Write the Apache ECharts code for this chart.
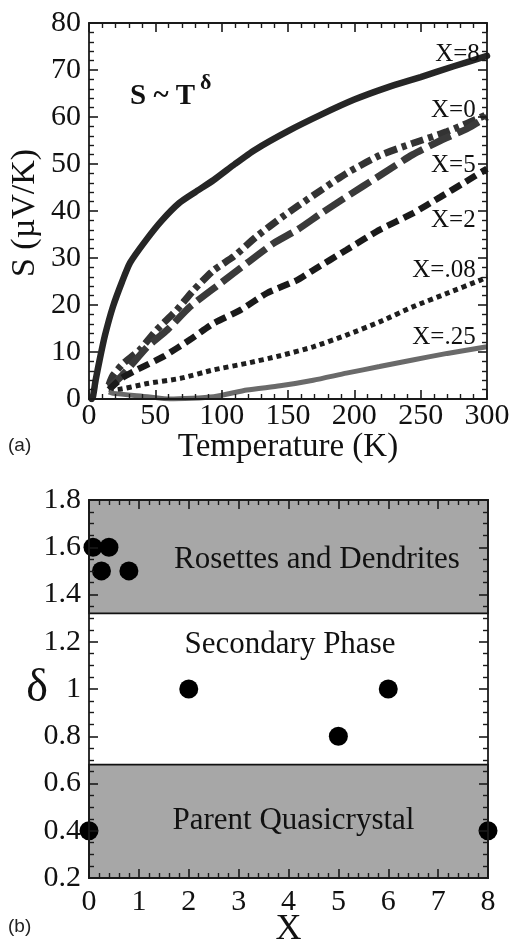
<!DOCTYPE html>
<html>
<head>
<meta charset="utf-8">
<script src="https://cdn.jsdelivr.net/npm/echarts@6/dist/echarts.min.js"></script>
<style>
html,body{margin:0;padding:0;background:#fff;}
#c{width:513px;height:946px;}
</style>
</head>
<body>
<div id="c"></div>
<script>
// ---- Panel (a): thermopower S vs T ----
const tX8 = [2, 3, 5, 8, 12, 18, 25, 31, 43, 55, 68, 80, 94, 110, 125, 150, 175, 200, 225, 250, 275, 300];
const sX8 = [0, 0.5, 4, 8.3, 13.5, 19.6, 25, 29, 33.8, 38, 41.7, 44, 46.6, 50, 53, 57, 60.5, 63.7, 66.3, 68.5, 70.8, 73];
const tX0 = [15, 18, 26, 38, 51, 66, 79, 94, 109, 126, 146, 169, 194, 219, 244, 270, 300];
const sX0 = [3, 5, 7.6, 10.4, 14.7, 18.9, 23.2, 27.4, 30.3, 34.5, 38.8, 43.3, 48, 51.8, 54.4, 56.9, 60.5];
const tX5 = [15, 25, 44, 59, 76, 99, 119, 139, 157, 175, 194, 219, 244, 265, 285, 300];
const sX5 = [2.5, 5, 11.1, 14.7, 19.6, 24.6, 28.9, 33.1, 36, 39.5, 43, 47.5, 52, 55, 57.5, 60];
const tX2 = [15, 25, 36, 56, 76, 94, 114, 134, 157, 169, 194, 219, 244, 265, 282, 300];
const sX2 = [2, 4.5, 6.2, 9, 12.6, 16.1, 18.9, 22.5, 25.3, 27.4, 31.7, 36, 39.5, 43, 45.9, 49];
const tX008 = [15, 18, 44, 69, 94, 119, 144, 169, 194, 219, 244, 270, 295, 300];
const sX008 = [2, 1.9, 3.3, 4.4, 6.2, 7.6, 9.2, 11.1, 13.6, 16.4, 19.6, 22.5, 25.3, 26];
const tX025 = [15, 18, 44, 61, 94, 119, 144, 169, 194, 219, 244, 270, 300];
const sX025 = [1.5, 1.2, 0.5, 0, 0.5, 1.9, 2.8, 4, 5.5, 6.9, 8.3, 9.7, 11.1];

const curveLabels = ['X=8', 'X=0', 'X=5', 'X=2', 'X=.08', 'X=.25'];
const curveLabelT = [294.6, 291.5, 291.5, 291.5, 291.5, 291.5];
const curveLabelS = [73.3, 61.3, 49.8, 38.0, 27.4, 13.2];

// ---- Panel (b): exponent delta vs X ----
const xPts = [0, 0.08, 0.4, 0.25, 0.8, 2, 5, 6, 8];
const dPts = [0.4, 1.6, 1.6, 1.5, 1.5, 1.0, 0.8, 1.0, 0.4];
const bandUpper = [1.32, 1.8];
const bandLower = [0.2, 0.68];
const regionNames = ['Rosettes and Dendrites', 'Secondary Phase', 'Parent Quasicrystal'];
const regionX = [4.57, 4.03, 4.1];
const regionY = [1.546, 1.186, 0.442];

const zip = (a, b) => a.map((v, i) => [v, b[i]]);

const SERIF = '"Liberation Serif", "Times New Roman", serif';
const axisCol = '#1a1a1a';

function ax(grid, min, max, interval, minorSplit, showLabel, pos, margin, extra) {
  return Object.assign({
    type: 'value', gridIndex: grid, min: min, max: max, interval: interval, position: pos, z: 20,
    nameMoveOverlap: false,
    axisLine: { show: true, onZero: false, lineStyle: { color: axisCol, width: 1.8 } },
    axisTick: { show: true, inside: true, length: 9, lineStyle: { color: axisCol, width: 1.6 } },
    minorTick: { show: true, splitNumber: minorSplit, length: 5, lineStyle: { color: axisCol, width: 1.4 } },
    splitLine: { show: false },
    axisLabel: { show: showLabel, fontFamily: SERIF, fontSize: 30, color: '#111', margin: margin }
  }, extra || {});
}

const option = {
  animation: false,
  backgroundColor: '#fff',
  textStyle: { fontFamily: SERIF },
  grid: [
    { left: 89, top: 23, width: 398, height: 376, outerBoundsMode: 'none', containLabel: false },
    { left: 89, top: 500, width: 399, height: 378, outerBoundsMode: 'none', containLabel: false }
  ],
  xAxis: [
    ax(0, 0, 300, 50, 5, true, 'bottom', 2, {
      name: 'Temperature (K)', nameLocation: 'middle', nameGap: 32,
      nameTextStyle: { fontFamily: SERIF, fontSize: 33, color: '#111' }
    }),
    ax(0, 0, 300, 50, 5, false, 'top', 4),
    ax(1, 0, 8, 1, 5, true, 'bottom', 9, {
      name: 'X', nameLocation: 'middle', nameGap: 34,
      nameTextStyle: { fontFamily: SERIF, fontSize: 36, color: '#111' }
    }),
    ax(1, 0, 8, 1, 5, false, 'top', 4)
  ],
  yAxis: [
    ax(0, 0, 80, 10, 5, true, 'left', 8),
    ax(0, 0, 80, 10, 5, false, 'right', 4),
    ax(1, 0.2, 1.8, 0.2, 4, true, 'left', 8, {
      name: 'δ', nameLocation: 'middle', nameGap: 41, nameRotate: 0,
      nameTextStyle: { fontFamily: SERIF, fontSize: 46, color: '#111' }
    }),
    ax(1, 0.2, 1.8, 0.2, 4, false, 'right', 4)
  ],
  series: [
    { type: 'line', xAxisIndex: 0, yAxisIndex: 0, data: zip(tX8, sX8), smooth: 0.2, showSymbol: false,
      lineStyle: { color: '#262626', width: 6.5, cap: 'round' } },
    { type: 'line', xAxisIndex: 0, yAxisIndex: 0, data: zip(tX0, sX0), smooth: 0.2, showSymbol: false,
      lineStyle: { color: '#333', width: 7, cap: 'butt', type: [13, 5, 5, 5] } },
    { type: 'line', xAxisIndex: 0, yAxisIndex: 0, data: zip(tX5, sX5), smooth: 0.2, showSymbol: false,
      lineStyle: { color: '#3a3a3a', width: 7, cap: 'butt', type: [24, 7] } },
    { type: 'line', xAxisIndex: 0, yAxisIndex: 0, data: zip(tX2, sX2), smooth: 0.2, showSymbol: false,
      lineStyle: { color: '#1a1a1a', width: 6.5, cap: 'butt', type: [12, 6] } },
    { type: 'line', xAxisIndex: 0, yAxisIndex: 0, data: zip(tX008, sX008), smooth: 0.2, showSymbol: false,
      lineStyle: { color: '#1e1e1e', width: 5, cap: 'butt', type: [5, 4] } },
    { type: 'line', xAxisIndex: 0, yAxisIndex: 0, data: zip(tX025, sX025), smooth: 0.2, showSymbol: false,
      lineStyle: { color: '#6a6a6a', width: 5, cap: 'butt' } },
    { type: 'scatter', xAxisIndex: 0, yAxisIndex: 0, symbolSize: 0, silent: true, z: 5,
      itemStyle: { opacity: 1 },
      data: curveLabels.map((n, i) => ({ name: n, value: [curveLabelT[i], curveLabelS[i]] })),
      label: { show: true, position: 'left', distance: 0, formatter: p => p.name,
        fontFamily: SERIF, fontSize: 25, color: '#111' } },
    // panel b
    { type: 'scatter', xAxisIndex: 2, yAxisIndex: 2, data: [], z: 1, silent: true,
      markArea: { silent: true,
        itemStyle: { color: '#a7a7a7', borderColor: '#111', borderWidth: 1.6, opacity: 1 },
        label: { show: false },
        data: [
          [{ yAxis: bandUpper[0] }, { yAxis: bandUpper[1] }],
          [{ yAxis: bandLower[0] }, { yAxis: bandLower[1] }]
        ] } },
    { type: 'scatter', xAxisIndex: 2, yAxisIndex: 2, symbolSize: 0, silent: true, z: 4,
      itemStyle: { opacity: 1 },
      data: regionNames.map((n, i) => ({ name: n, value: [regionX[i], regionY[i]] })),
      label: { show: true, position: 'inside', formatter: p => p.name,
        fontFamily: SERIF, fontSize: 31, color: '#111' } },
    { type: 'scatter', xAxisIndex: 2, yAxisIndex: 2, data: zip(xPts, dPts), symbolSize: 19, clip: false, z: 6,
      itemStyle: { color: '#000', opacity: 1 } }
  ],
  graphic: [
    { type: 'text', x: 25, y: 213, rotation: Math.PI / 2, z: 30,
      style: { text: 'S (\u00b5V/K)', fontFamily: 'Liberation Serif', fontSize: 34, fill: '#111', align: 'center', verticalAlign: 'middle' } },
    { type: 'text', left: 130, top: 82, style: { text: 'S ~ T', font: 'bold 29px ' + SERIF, fill: '#111' } },
    { type: 'text', left: 200, top: 72, style: { text: 'δ', font: 'bold 22px ' + SERIF, fill: '#111' } },
    { type: 'text', left: 8, top: 436, style: { text: '(a)', font: '19px "Liberation Sans", Arial, sans-serif', fill: '#222' } },
    { type: 'text', left: 8, top: 917, style: { text: '(b)', font: '19px "Liberation Sans", Arial, sans-serif', fill: '#222' } }
  ]
};

const chart = echarts.init(document.getElementById('c'), null, { renderer: 'canvas' });
chart.setOption(option);
</script>
</body>
</html>
